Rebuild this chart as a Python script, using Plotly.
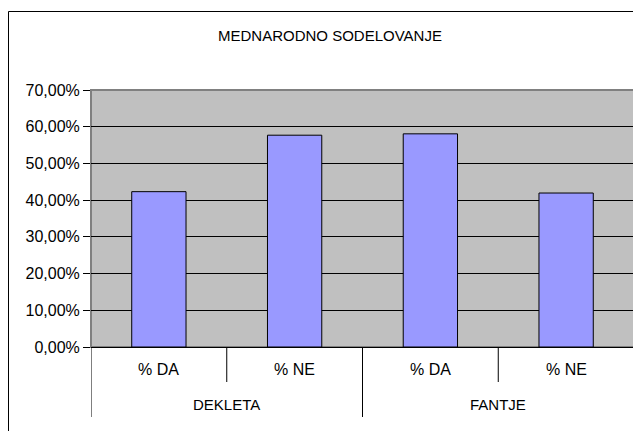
import plotly.graph_objects as go

# ---- data ----
chart_title = "MEDNARODNO SODELOVANJE"
groups = ["DEKLETA", "DEKLETA", "FANTJE", "FANTJE"]
answers = ["% DA", "% NE", "% DA", "% NE"]
shares = [0.4231, 0.5769, 0.5806, 0.4194]
y_ticks = [0.0, 0.1, 0.2, 0.3, 0.4, 0.5, 0.6, 0.7]

# ---- layout constants (page pixels; the page body has an 8px margin) ----
OFF = 8
W, H = 641 - OFF, 431 - OFF
PLOT_L, PLOT_R, PLOT_T, PLOT_B = 91, 634, 90, 347  # page coords
ML = PLOT_L - OFF
MT = PLOT_T - OFF
MR = W - (PLOT_R - OFF)
MB = H - (PLOT_B - OFF)
PW, PH = W - ML - MR, H - MT - MB
FONT = "Liberation Sans, Arial, sans-serif"


def py_paper(py):
    return (PLOT_B - py) / PH


def px_paper(px):
    return (px - PLOT_L) / PW


idx = list(range(len(answers)))

fig = go.Figure()
fig.add_trace(go.Bar(
    x=idx, y=shares, width=0.4,
    marker=dict(color="#9999FF", line=dict(color="black", width=1)),
    hoverinfo="skip",
))

shapes = []
# plot area border
shapes.append(dict(type="rect", xref="paper", yref="paper", x0=0, x1=1, y0=0, y1=1,
                   line=dict(color="#808080", width=2), fillcolor="rgba(0,0,0,0)", layer="below"))
# category dividers
n = len(answers)
for b in range(n + 1):
    xb = b - 0.5
    is_group_edge = b == 0 or b == n or groups[b - 1] != groups[b]
    y_end = py_paper(417) if is_group_edge else py_paper(382)
    shapes.append(dict(type="line", xref="x", yref="paper", x0=xb, x1=xb, y0=0, y1=y_end,
                       line=dict(color="black", width=1)))
# outer chart border
shapes.append(dict(type="rect", xref="paper", yref="paper",
                   x0=px_paper(8.5), x1=px_paper(660), y0=py_paper(450), y1=py_paper(11.5),
                   line=dict(color="black", width=1), fillcolor="rgba(0,0,0,0)"))

annotations = []
for i, a in zip(idx, answers):
    annotations.append(dict(x=i, y=py_paper(369), xref="x", yref="paper", text=a,
                            showarrow=False, xanchor="center", yanchor="middle",
                            font=dict(family=FONT, size=16, color="black")))
seen = []
for g in groups:
    if g not in seen:
        seen.append(g)
for g in seen:
    members = [i for i, gg in zip(idx, groups) if gg == g]
    annotations.append(dict(x=sum(members) / len(members), y=py_paper(404), xref="x", yref="paper",
                            text=g, showarrow=False, xanchor="center", yanchor="middle",
                            font=dict(family=FONT, size=15, color="black")))
# chart title
annotations.append(dict(x=px_paper(330), y=py_paper(35), xref="paper", yref="paper",
                        text=chart_title, showarrow=False, xanchor="center", yanchor="middle",
                        font=dict(family=FONT, size=15, color="black")))

fig.update_layout(
    width=W, height=H,
    margin=dict(l=ML, r=MR, t=MT, b=MB, pad=0),
    paper_bgcolor="white", plot_bgcolor="#C0C0C0",
    separators=",.",
    showlegend=False,
    font=dict(family=FONT, size=15, color="black"),
    xaxis=dict(range=[-0.5, n - 0.5], showticklabels=False, showgrid=False, zeroline=False,
               showline=True, linecolor="black", linewidth=1, ticks="", fixedrange=True),
    yaxis=dict(range=[0, 0.7], tickvals=y_ticks, tickformat=".2%", showgrid=True,
               gridcolor="black", gridwidth=1, zeroline=False, showline=False,
               ticks="outside", ticklen=7, tickcolor="black", tickwidth=1,
               tickfont=dict(family=FONT, size=16, color="black")),
    shapes=shapes,
    annotations=annotations,
)

fig.write_html("out.html")
